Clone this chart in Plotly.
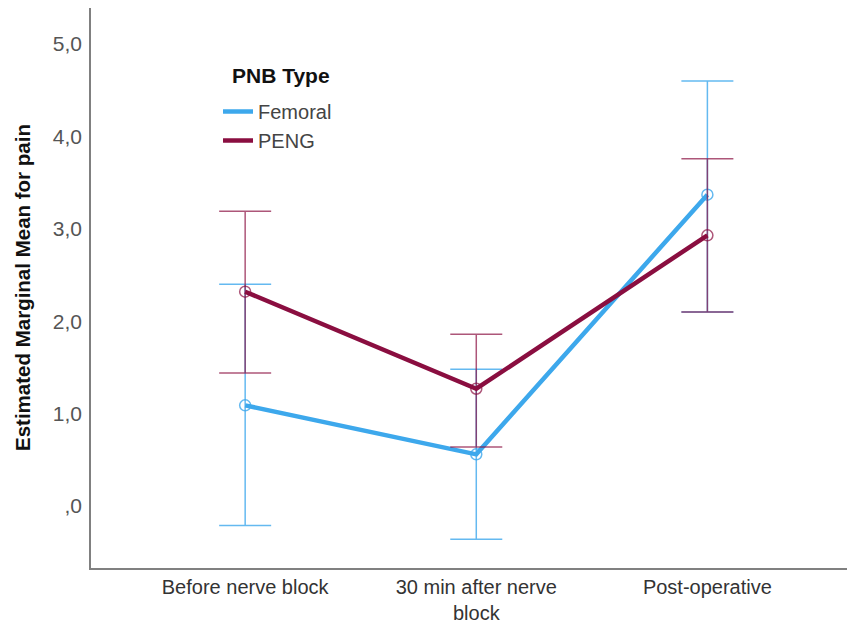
import plotly.graph_objects as go

categories = ["Before nerve block", "30 min after nerve<br>block", "Post-operative"]
femoral_mean = [1.09, 0.56, 3.37]
femoral_upper = [2.40, 1.48, 4.60]
femoral_lower = [-0.21, -0.36, 2.10]
peng_mean = [2.32, 1.27, 2.93]
peng_upper = [3.19, 1.86, 3.76]
peng_lower = [1.44, 0.64, 2.10]
ytick_vals = [0, 1, 2, 3, 4, 5]
ytick_text = [",0", "1,0", "2,0", "3,0", "4,0", "5,0"]

BLUE = "#3DA8EC"
MAROON = "#8A0E40"
xs = [0, 1, 2]

# page body has an 8px default margin; size the figure to fit the 855x624 window
W, H = 847, 616

fig = go.Figure()

def add_series(name, mean, upper, lower, color, ecolor):
    fig.add_trace(go.Scatter(
        x=xs, y=mean, mode="lines+markers", name=name, showlegend=False,
        line=dict(color=color, width=4.5),
        marker=dict(symbol="circle-open", size=11, color=ecolor, line=dict(width=1.5, color=ecolor)),
        error_y=dict(type="data", symmetric=False,
                     array=[u - m for u, m in zip(upper, mean)],
                     arrayminus=[m - l for m, l in zip(mean, lower)],
                     color=ecolor, thickness=1.5, width=26),
    ))
    fig.add_trace(go.Scatter(x=[None], y=[None], mode="lines", name=name,
                             line=dict(color=color, width=4.5)))

add_series("Femoral", femoral_mean, femoral_upper, femoral_lower, BLUE, "rgba(61,168,236,0.8)")
add_series("PENG", peng_mean, peng_upper, peng_lower, MAROON, "rgba(138,14,64,0.7)")

fig.update_layout(
    width=W, height=H,
    margin=dict(l=83, r=2, t=0, b=56),
    paper_bgcolor="white", plot_bgcolor="white",
    font=dict(family="Liberation Sans, Arial, sans-serif", color="#333333"),
    xaxis=dict(range=[-0.667, 2.63], tickvals=xs, ticktext=categories,
               showgrid=False, zeroline=False, showline=True, linecolor="#808080", linewidth=1.5,
               tickfont=dict(size=20, color="#333333"), ticks="", ticklabelstandoff=0,
               automargin=False),
    yaxis=dict(range=[-0.67, 5.39], tickvals=ytick_vals, ticktext=ytick_text,
               showgrid=False, zeroline=False, showline=True, linecolor="#808080", linewidth=1.5,
               tickfont=dict(size=21, color="#555555"), ticks="", ticklabelstandoff=3,
               automargin=False),
    legend=dict(x=0.1667, y=(560 - 84) / 560, xanchor="left", yanchor="top",
                font=dict(size=20, color="#444444"), bgcolor="rgba(0,0,0,0)",
                tracegroupgap=0, itemwidth=30),
    annotations=[
        dict(text="<b>Estimated Marginal Mean for pain</b>", xref="paper", yref="paper",
             x=-69 / 762, y=0.5, textangle=-90, showarrow=False,
             xanchor="center", yanchor="middle",
             font=dict(size=20.5, color="#111111")),
        dict(text="<b>PNB Type</b>", xref="paper", yref="paper",
             x=(230 - 91) / 762, y=(560 - 67) / 560, showarrow=False,
             xanchor="left", yanchor="middle",
             font=dict(size=21, color="#111111")),
    ],
)

fig.write_html("out.html")
